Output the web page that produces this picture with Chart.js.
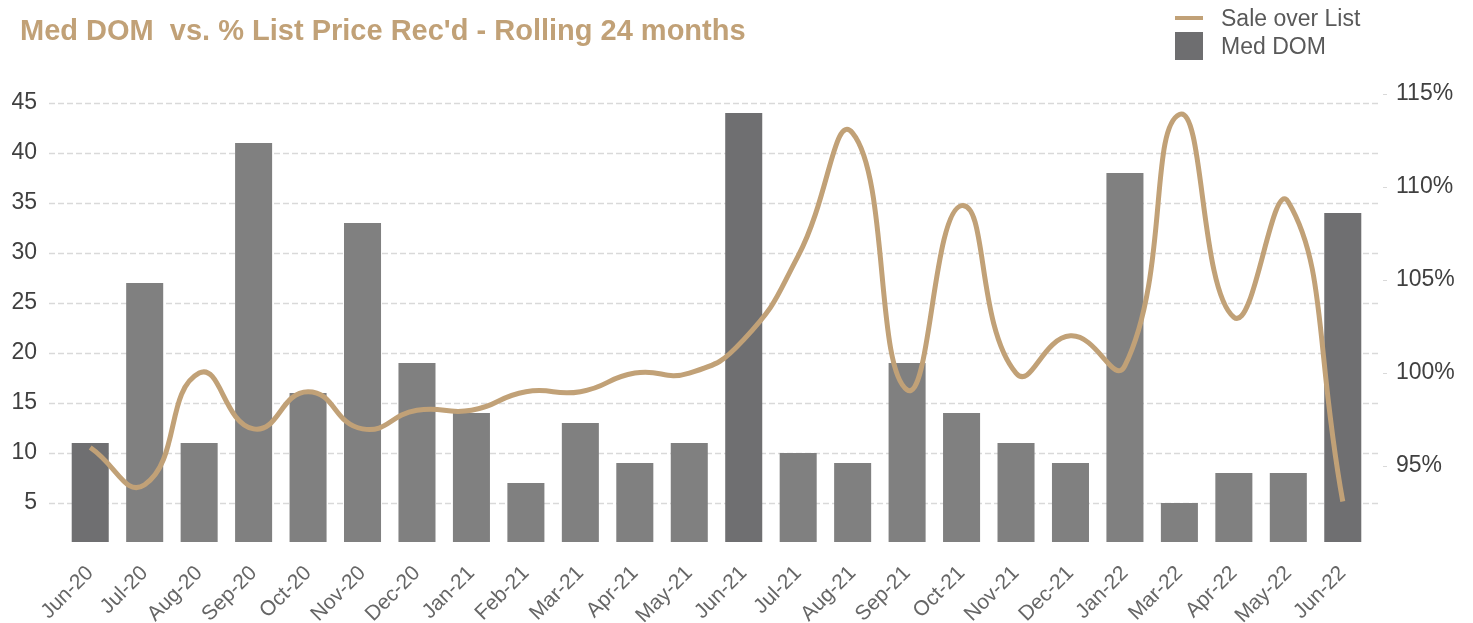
<!DOCTYPE html>
<html>
<head>
<meta charset="utf-8">
<script src="https://cdn.jsdelivr.net/npm/chart.js@4/dist/chart.umd.min.js"></script>
<style>
  html, body { margin: 0; padding: 0; background: #ffffff; }
  #wrap { position: relative; width: 1473px; height: 623px; font-family: "Liberation Sans", Arial, sans-serif; }
  #c { position: absolute; left: 0; top: 0; }
  #title { position: absolute; left: 20px; top: 14px; font-size: 29px; font-weight: bold; color: #C1A177; white-space: pre; line-height: 1.15; }
  .lg { position: absolute; font-size: 23px; color: #595959; white-space: pre; line-height: 1; }
  .sw-line { position: absolute; left: 1175px; top: 16px; width: 28px; height: 4px; background: #C1A177; }
  .sw-box { position: absolute; left: 1175px; top: 32px; width: 28px; height: 28px; background: #6E6E70; }
</style>
</head>
<body>
<div id="wrap">
  <canvas id="c" width="1473" height="623"></canvas>
  <div id="title">Med DOM  vs. % List Price Rec'd - Rolling 24 months</div>
  <div class="sw-line"></div>
  <div class="lg" style="left:1221px; top:7px;">Sale over List</div>
  <div class="sw-box"></div>
  <div class="lg" style="left:1221px; top:35px;">Med DOM</div>
</div>
<script>
const categories = ["Jun-20","Jul-20","Aug-20","Sep-20","Oct-20","Nov-20","Dec-20","Jan-21","Feb-21","Mar-21","Apr-21","May-21","Jun-21","Jul-21","Aug-21","Sep-21","Oct-21","Nov-21","Dec-21","Jan-22","Mar-22","Apr-22","May-22","Jun-22"];
const medDOM = [11, 27, 11, 41, 16, 33, 19, 14, 7, 13, 9, 11, 44, 10, 9, 19, 14, 11, 9, 38, 5, 8, 8, 34];
const saleOverList = [96, 94, 100, 97, 99, 97, 98, 98, 99, 99, 100, 100, 101.8, 106.3, 112.9, 99.1, 109, 100, 102, 100.4, 113.9, 103, 109.2, 93.1];
const leftTicks = [5, 10, 15, 20, 25, 30, 35, 40, 45];
const rightTicks = [95, 100, 105, 110, 115];

const barColors = categories.map(c => c.startsWith("Jun") ? "#6F6F71" : "#808080");
const FONT = "'Liberation Sans', Arial, sans-serif";

const gridPlugin = {
  id: 'extGrid',
  beforeDatasetsDraw(chart) {
    const ctx = chart.ctx, a = chart.chartArea;
    const y = chart.scales.y, y1 = chart.scales.y1;
    ctx.save();
    ctx.strokeStyle = '#D9D9D9';
    ctx.lineWidth = 1.5;
    ctx.setLineDash([6, 3]);
    leftTicks.forEach(v => {
      const py = Math.round(y.getPixelForValue(v)) + 0.5;
      ctx.beginPath(); ctx.moveTo(a.left - 14, py); ctx.lineTo(a.right + 11, py); ctx.stroke();
    });
    ctx.setLineDash([]);
    ctx.lineWidth = 1;
    rightTicks.forEach(v => {
      const py = Math.round(y1.getPixelForValue(v)) + 0.5;
      ctx.beginPath(); ctx.moveTo(a.right + 13, py); ctx.lineTo(a.right + 17, py); ctx.stroke();
    });
    ctx.restore();
  }
};

new Chart(document.getElementById('c'), {
  data: {
    labels: categories,
    datasets: [
      {
        type: 'line', label: 'Sale over List', data: saleOverList, yAxisID: 'y1', order: 0,
        borderColor: '#C1A177', borderWidth: 5, pointRadius: 0, tension: 0.5, fill: false,
        borderCapStyle: 'butt'
      },
      {
        type: 'bar', label: 'Med DOM', data: medDOM, yAxisID: 'y', order: 1,
        backgroundColor: barColors, categoryPercentage: 1.0, barPercentage: 0.68,
        base: 1.1
      }
    ]
  },
  options: {
    responsive: false,
    animation: false,
    layout: { padding: { top: 94, left: 0, right: 0, bottom: 0 } },
    plugins: { legend: { display: false }, title: { display: false }, tooltip: { enabled: false } },
    scales: {
      x: {
        grid: { display: false, drawTicks: false },
        border: { display: false },
        ticks: {
          autoSkip: false, maxRotation: 45, minRotation: 45, padding: 19,
          color: '#666666', font: { family: FONT, size: 21 }
        },
        afterFit: s => { s.height = 81; }
      },
      y: {
        position: 'left', min: 1.1, max: 45.9,
        grid: { display: false, drawTicks: false },
        border: { display: false },
        afterBuildTicks: s => { s.ticks = leftTicks.map(v => ({ value: v })); },
        ticks: { padding: 26, color: '#404040', font: { family: FONT, size: 23 } },
        afterFit: s => { s.width = 63; }
      },
      y1: {
        position: 'right', min: 90.92, max: 115,
        grid: { display: false, drawTicks: false },
        border: { display: false },
        afterBuildTicks: s => { s.ticks = rightTicks.map(v => ({ value: v })); },
        ticks: { padding: 26, color: '#404040', font: { family: FONT, size: 23 }, callback: v => v + '%' },
        afterFit: s => { s.width = 103; }
      }
    }
  },
  plugins: [gridPlugin]
});
</script>
</body>
</html>
